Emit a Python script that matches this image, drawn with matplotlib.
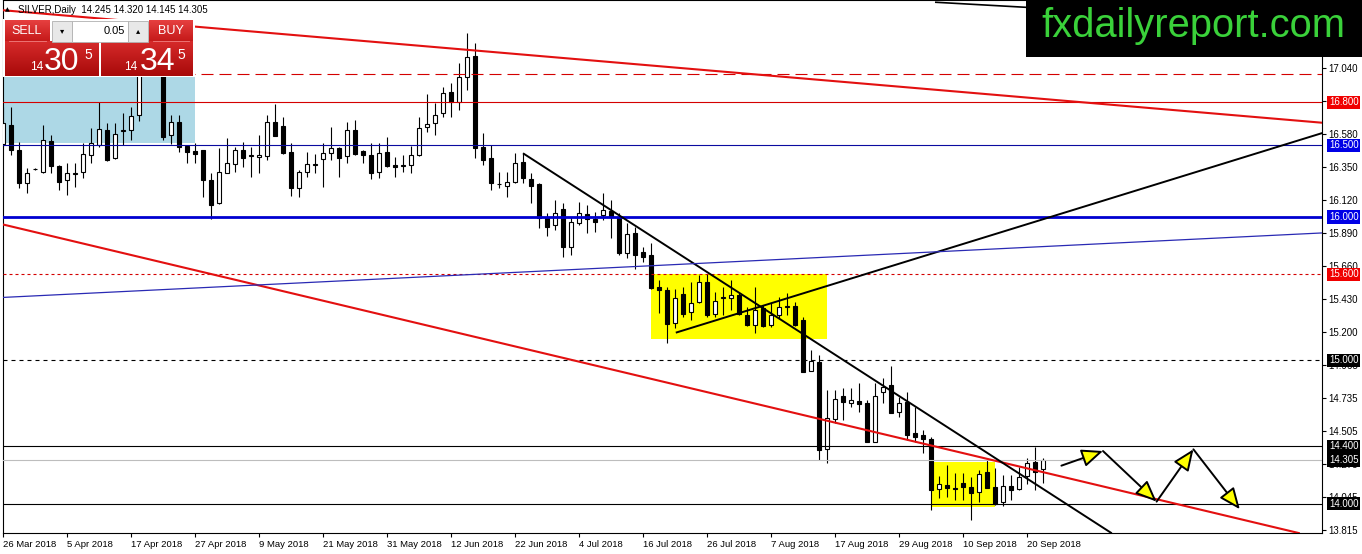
import matplotlib
matplotlib.use('Agg')
import matplotlib.pyplot as plt
import matplotlib.patches as patches
from matplotlib import font_manager
from matplotlib.colors import LinearSegmentedColormap
import numpy as np

# ---- daily candles (bar index 0 = 26 Mar 2018) ----
opens = [16.510, 16.642, 16.468, 16.235, 16.333, 16.316, 16.531, 16.358, 16.258, 16.303,
         16.316, 16.431, 16.503, 16.607, 16.410, 16.600, 16.607, 16.712, 17.120, 17.100,
         17.150, 16.572, 16.661, 16.498, 16.461, 16.468, 16.258, 16.096, 16.309, 16.368,
         16.468, 16.426, 16.417, 16.428, 16.661, 16.635, 16.452, 16.201, 16.316, 16.366,
         16.403, 16.445, 16.480, 16.426, 16.607, 16.461, 16.433, 16.312, 16.452, 16.363,
         16.356, 16.363, 16.431, 16.626, 16.654, 16.724, 16.870, 16.805, 16.975, 17.124,
         16.491, 16.410, 16.229, 16.219, 16.247, 16.386, 16.263, 16.231, 15.991, 15.944,
         16.056, 15.793, 15.956, 16.019, 15.986, 16.014, 16.044, 16.002, 15.751, 15.886,
         15.754, 15.735, 15.514, 15.491, 15.259, 15.463, 15.339, 15.409, 15.545, 15.323,
         15.433, 15.437, 15.456, 15.316, 15.247, 15.363, 15.247, 15.316, 15.372, 15.379,
         15.282, 14.926, 14.986, 14.379, 14.589, 14.751, 14.700, 14.716, 14.704, 14.432,
         14.777, 14.828, 14.642, 14.707, 14.491, 14.479, 14.449, 14.102, 14.130, 14.111,
         14.146, 14.118, 14.079, 14.219, 14.118, 14.009, 14.123, 14.102, 14.191, 14.289,
         14.245]
highs = [16.770, 16.770, 16.526, 16.340, 16.345, 16.642, 16.572, 16.360, 16.375, 16.375,
         16.514, 16.619, 16.805, 16.658, 16.654, 16.728, 16.770, 17.200, 17.350, 17.250,
         17.180, 16.712, 16.712, 16.500, 16.514, 16.470, 16.305, 16.480, 16.549, 16.491,
         16.526, 16.491, 16.572, 16.712, 16.789, 16.700, 16.514, 16.328, 16.456, 16.440,
         16.514, 16.630, 16.491, 16.661, 16.677, 16.468, 16.514, 16.514, 16.561, 16.421,
         16.433, 16.496, 16.700, 16.859, 16.794, 16.905, 16.933, 17.073, 17.282, 17.212,
         16.584, 16.503, 16.316, 16.316, 16.445, 16.445, 16.305, 16.235, 16.026, 16.119,
         16.096, 16.002, 16.107, 16.084, 16.037, 16.170, 16.119, 16.026, 15.956, 15.933,
         15.793, 15.821, 15.561, 15.514, 15.496, 15.514, 15.549, 15.596, 15.602, 15.479,
         15.514, 15.561, 15.479, 15.374, 15.514, 15.386, 15.398, 15.440, 15.468, 15.409,
         15.305, 15.072, 15.037, 14.793, 14.793, 14.805, 14.805, 14.840, 14.723, 14.840,
         14.875, 14.961, 14.746, 14.781, 14.677, 14.514, 14.467, 14.193, 14.270, 14.212,
         14.212, 14.188, 14.235, 14.305, 14.247, 14.200, 14.200, 14.258, 14.317, 14.397,
         14.320]
lows = [16.491, 16.433, 16.201, 16.170, 16.325, 16.305, 16.305, 16.189, 16.154, 16.212,
        16.270, 16.375, 16.491, 16.391, 16.403, 16.503, 16.538, 16.672, 17.000, 17.000,
        16.538, 16.510, 16.456, 16.375, 16.375, 16.142, 15.985, 16.091, 16.305, 16.316,
        16.351, 16.281, 16.305, 16.398, 16.565, 16.443, 16.147, 16.138, 16.281, 16.305,
        16.212, 16.398, 16.281, 16.375, 16.433, 16.375, 16.265, 16.270, 16.351, 16.281,
        16.316, 16.305, 16.428, 16.591, 16.572, 16.696, 16.700, 16.747, 16.886, 16.410,
        16.363, 16.189, 16.201, 16.142, 16.235, 16.235, 16.096, 15.921, 15.868, 15.909,
        15.719, 15.735, 15.944, 15.886, 15.898, 15.979, 15.852, 15.735, 15.712, 15.635,
        15.688, 15.500, 15.328, 15.123, 15.224, 15.305, 15.282, 15.398, 15.305, 15.305,
        15.316, 15.351, 15.316, 15.240, 15.189, 15.235, 15.235, 15.293, 15.316, 15.240,
        14.917, 14.924, 14.305, 14.282, 14.561, 14.584, 14.677, 14.642, 14.430, 14.430,
        14.700, 14.633, 14.607, 14.444, 14.432, 14.351, 13.956, 14.037, 14.049, 14.025,
        14.025, 13.886, 14.014, 14.107, 13.991, 13.981, 14.025, 14.095, 14.137, 14.095,
        14.145]
closes = [16.658, 16.468, 16.235, 16.305, 16.337, 16.538, 16.358, 16.247, 16.305, 16.307,
          16.440, 16.514, 16.614, 16.398, 16.577, 16.604, 16.707, 17.120, 17.100, 17.150,
          16.561, 16.661, 16.491, 16.452, 16.438, 16.258, 16.084, 16.316, 16.375, 16.468,
          16.414, 16.430, 16.433, 16.661, 16.567, 16.445, 16.201, 16.312, 16.368, 16.370,
          16.445, 16.480, 16.414, 16.607, 16.440, 16.431, 16.305, 16.445, 16.358, 16.351,
          16.360, 16.431, 16.619, 16.647, 16.710, 16.863, 16.805, 16.975, 17.115, 16.480,
          16.398, 16.235, 16.233, 16.247, 16.375, 16.270, 16.219, 15.991, 15.933, 16.026,
          15.793, 15.968, 16.026, 15.984, 15.963, 16.049, 16.002, 15.747, 15.879, 15.735,
          15.723, 15.503, 15.491, 15.254, 15.433, 15.323, 15.402, 15.549, 15.316, 15.416,
          15.444, 15.454, 15.323, 15.247, 15.351, 15.240, 15.316, 15.374, 15.376, 15.247,
          14.919, 14.995, 14.374, 14.596, 14.728, 14.712, 14.723, 14.693, 14.432, 14.751,
          14.816, 14.635, 14.700, 14.479, 14.467, 14.449, 14.095, 14.135, 14.107, 14.100,
          14.118, 14.072, 14.205, 14.107, 13.998, 14.125, 14.095, 14.188, 14.282, 14.223,
          14.305]

date_ticks = list(range(0, 129, 8))
date_labels = ["26 Mar 2018", "5 Apr 2018", "17 Apr 2018", "27 Apr 2018", "9 May 2018",
               "21 May 2018", "31 May 2018", "12 Jun 2018", "22 Jun 2018", "4 Jul 2018",
               "16 Jul 2018", "26 Jul 2018", "7 Aug 2018", "17 Aug 2018", "29 Aug 2018",
               "10 Sep 2018", "20 Sep 2018"]
price_ticks = [17.040, 16.810, 16.580, 16.350, 16.120, 15.890, 15.660, 15.430, 15.200,
               14.965, 14.735, 14.505, 14.275, 14.045, 13.815]

# horizontal levels: price, colour, width, style, label box colour
levels = [(17.000, '#d40000', 0.8, (0, (10.8, 5.4)), None),
          (16.800, '#d40000', 0.8, '-', '#f00000'),
          (16.500, '#0a0aa0', 0.8, '-', '#0000e6'),
          (16.000, '#0000d0', 2.0, '-', '#0000e6'),
          (15.600, '#d40000', 0.8, (0, (2.7, 2.7)), '#f00000'),
          (15.000, 'black', 0.8, (0, (3.6, 3.6)), 'black'),
          (14.400, 'black', 0.8, '-', 'black'),
          (14.305, '#bdbdbd', 0.8, '-', 'black'),
          (14.000, 'black', 0.8, '-', 'black')]

# drawn trend lines: (bar, price) end points
red_upper = [(-0.4, 17.445), (164.9, 16.658)]
red_lower = [(0.0, 15.948), (162.1, 13.793)]
black_down = [(65.0, 16.445), (138.6, 13.793)]
black_up = [(84.1, 15.193), (164.9, 16.586)]
blue_slope = [(0.0, 15.439), (164.9, 15.889)]
black_top = [(116.5, 17.499), (145.0, 17.410)]

# boxes: (bar start, bar end, price low, price high)
blue_box = (-1.0, 24.0, 16.517, 16.981)
yellow_boxes = [(81.0, 103.0, 15.149, 15.603), (116.1, 124.0, 13.979, 14.293)]

# projected zig-zag path
zig_bars = [132.3, 137.5, 144.2, 148.8, 154.6]
zig_prices = [14.265, 14.367, 14.014, 14.379, 13.961]

names = {f.name for f in font_manager.fontManager.ttflist}
narrow = 'Liberation Sans Narrow' if 'Liberation Sans Narrow' in names else 'Liberation Sans'
plt.rcParams['font.family'] = ['Liberation Sans', 'DejaVu Sans']

W, H = 1362, 554
fig = plt.figure(figsize=(W / 100, H / 100), dpi=100)
fig.patch.set_facecolor('white')
ax = fig.add_axes([2.7 / W, (H - 533.3) / H, (1322 - 2.7) / W, 533.3 / H])
ax.set_xlim(-0.0375, 164.875)
ax.set_ylim(13.793, 17.5145)

# rectangles behind the candles
x0, x1, y0, y1 = blue_box
ax.add_patch(patches.Rectangle((x0, y0), x1 - x0, y1 - y0, fc='#add8e6', ec='none', zorder=0.5))
for x0, x1, y0, y1 in yellow_boxes:
    ax.add_patch(patches.Rectangle((x0, y0), x1 - x0, y1 - y0, fc='#ffff00', ec='none', zorder=0.5))

# candles
o, hi, lo, c = map(np.array, (opens, highs, lows, closes))
idx = np.arange(len(o))
up = c >= o
ax.vlines(idx, lo, hi, color='black', lw=0.8, zorder=2)
body_lo = np.minimum(o, c)
body_h = np.maximum(np.abs(c - o), 0.003)
ax.bar(idx[up], body_h[up], bottom=body_lo[up], width=0.62, fc='white', ec='black', lw=0.8, zorder=3)
ax.bar(idx[~up], body_h[~up], bottom=body_lo[~up], width=0.62, fc='black', ec='black', lw=0.8, zorder=3)

# horizontal levels
for price, col, lw, ls, box in levels:
    ax.axhline(price, color=col, lw=lw, ls=ls, zorder=4)
    if box:
        ax.text(1.0053, price, f"{price:.3f}", transform=ax.get_yaxis_transform(),
                ha='left', va='center', fontsize=7, color='white', zorder=8, clip_on=False,
                bbox=dict(boxstyle='square,pad=0.18', fc=box, ec='none'))

# trend lines
for pts, col, lw in [(red_upper, '#e31010', 1.5), (red_lower, '#e31010', 1.5),
                     (black_down, 'black', 1.4), (black_up, 'black', 1.4),
                     (blue_slope, '#2a2ab4', 0.9), (black_top, 'black', 1.2)]:
    xs, ys = zip(*pts)
    ax.plot(xs, ys, color=col, lw=lw, zorder=5, solid_capstyle='butt')

# zig-zag arrows
for i in range(len(zig_bars) - 1):
    ax.annotate('', xy=(zig_bars[i + 1], zig_prices[i + 1]), xytext=(zig_bars[i], zig_prices[i]),
                arrowprops=dict(arrowstyle='-|>,head_length=1.3,head_width=0.55', lw=1.4,
                                ec='black', fc='#ffff00', shrinkA=0, shrinkB=0, mutation_scale=10),
                zorder=6)

# axes styling
for s in ax.spines.values():
    s.set_color('black')
    s.set_linewidth(0.8)
ax.yaxis.tick_right()
ax.set_yticks(price_ticks)
ax.set_yticklabels([f"{p:.3f}" for p in price_ticks])
ax.set_xticks(date_ticks)
ax.set_xticklabels(date_labels, ha='left')
ax.tick_params(axis='y', length=3, width=0.8, pad=1.5, labelsize=7)
ax.tick_params(axis='x', length=3, width=0.8, pad=1.5, labelsize=6.8)

# overlay in pixel coordinates: title, trade panel, logo
ov = fig.add_axes([0, 0, 1, 1], zorder=10)
ov.axis('off')

ov.text(7, 10, '\u25b2', fontsize=4.5, ha='center', va='center', family=['DejaVu Sans'])
ov.text(18, 10, 'SILVER,Daily  14.245 14.320 14.145 14.305', fontsize=7, ha='left', va='center')

ov.add_patch(patches.Rectangle((3, 18.5), 192, 58.5, fc='white', ec='none', zorder=1))
btn = LinearSegmentedColormap.from_list('btn', ['#e64040', '#c41818'])
pan = LinearSegmentedColormap.from_list('pan', ['#d62a2a', '#a80a0a'])
grad = np.linspace(0, 1, 50).reshape(-1, 1)
for (gx0, gy0, gx1, gy1), cm in [((5, 20, 49.3, 41.7), btn), ((149.3, 20, 192.7, 41.7), btn),
                                  ((5, 42.3, 99, 76.5), pan), ((101, 42.3, 192.7, 76.5), pan)]:
    ov.imshow(grad, extent=(gx0, gx1, gy1, gy0), cmap=cm, aspect='auto',
              interpolation='bilinear', zorder=2)
ov.add_patch(patches.Rectangle((51.7, 20.7), 20, 21, fc='#e8e8e8', ec='#b0b0b0', lw=0.6, zorder=2))
ov.add_patch(patches.Rectangle((71.7, 20.7), 56.6, 21, fc='white', ec='#b0b0b0', lw=0.6, zorder=2))
ov.add_patch(patches.Rectangle((128.3, 20.7), 20, 21, fc='#e8e8e8', ec='#b0b0b0', lw=0.6, zorder=2))
ov.plot([9, 46], [40.5, 40.5], color='#f08080', lw=0.6, zorder=3)
ov.plot([153, 189], [40.5, 40.5], color='#f08080', lw=0.6, zorder=3)
ov.text(61.7, 31, '\u25be', fontsize=6, ha='center', va='center', family=['DejaVu Sans'], zorder=4)
ov.text(138.3, 31, '\u25b4', fontsize=6, ha='center', va='center', family=['DejaVu Sans'], zorder=4)
ov.text(124.5, 31, '0.05', fontsize=8, ha='right', va='center', zorder=4)
ov.text(26.7, 31, 'SELL', fontsize=9, ha='center', va='center', color='white', family=[narrow], zorder=4)
ov.text(170.5, 31, 'BUY', fontsize=9, ha='center', va='center', color='white', family=[narrow], zorder=4)
big = 26 if narrow != 'Liberation Sans' else 23
for x14, xbig, x5, digits in [(36.7, 61.3, 88, '30'), (131, 157.8, 181.7, '34')]:
    ov.text(x14, 70, '14', fontsize=8.5, ha='center', va='baseline', color='white',
            family=[narrow], zorder=4)
    ov.text(xbig, 70, digits, fontsize=big, ha='center', va='baseline', color='white',
            family=[narrow], zorder=4)
    ov.text(x5, 59.3, '5', fontsize=10, ha='center', va='baseline', color='white',
            family=[narrow], zorder=4)

ov.add_patch(patches.Rectangle((1026, 0), 336, 57, fc='black', ec='none', zorder=1))
ov.text(1041.5, 37.3, 'fxdailyreport.com', fontsize=28.7, ha='left', va='baseline',
        color='#3ad13a', zorder=4)

ov.set_xlim(0, W)
ov.set_ylim(H, 0)

fig.savefig('out.png', dpi=100)
